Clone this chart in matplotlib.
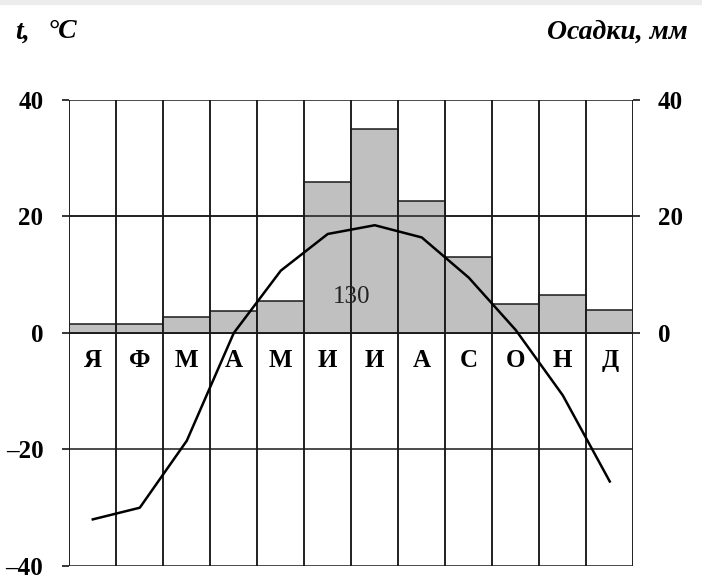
import matplotlib.pyplot as plt
from matplotlib.patches import Rectangle

# climate diagram data
months = ["Я", "Ф", "М", "А", "М", "И", "И", "А", "С", "О", "Н", "Д"]
temperature = [-32, -30, -18.5, 0, 10.7, 17, 18.5, 16.4, 9.5, 0.5, -10.7, -25.5]
precipitation = [1.6, 1.6, 2.7, 3.8, 5.5, 26, 35, 22.6, 13, 5, 6.6, 4]
total_precip = "130"
left_ticks = [-40, -20, 0, 20, 40]
left_ticklabels = ["\u201340", "\u201320", "0", "20", "40"]
right_ticks = [0, 20, 40]

plt.rcParams["font.family"] = ["Liberation Serif", "DejaVu Serif"]

fig = plt.figure(figsize=(7.02, 5.79), dpi=100)
fig.patches.append(Rectangle((0, 0.993), 1, 0.007, transform=fig.transFigure,
                             color="#ececec", zorder=0))

ax = fig.add_axes([0.0987, 0.0225, 0.8034, 0.8048])
ax2 = ax.twinx()

x = range(len(months))
ax.set_xlim(-0.5, len(months) - 0.5)
ax.set_ylim(-40, 40)
ax2.set_ylim(-40, 40)

# grid
for b in range(len(months) + 1):
    ax.axvline(b - 0.5, color="#1a1a1a", lw=1.1, zorder=1)
for t in left_ticks:
    ax.axhline(t, color="#1a1a1a", lw=1.1, zorder=1)

# precipitation bars
ax2.bar(x, precipitation, width=1.0, bottom=0, color="#c0c0c0",
        edgecolor="#1a1a1a", linewidth=1.1, zorder=2)
for b in range(len(months) + 1):
    ax2.axvline(b - 0.5, color="#1a1a1a", lw=1.1, zorder=3)
ax2.axhline(20, color="#1a1a1a", lw=1.1, zorder=3)
ax2.axhline(0, color="#1a1a1a", lw=1.1, zorder=3)

# temperature curve
ax2.plot(x, temperature, color="black", lw=1.8, zorder=5)

for i, m in enumerate(months):
    ax2.text(i, -4.7, m, ha="center", va="center", fontsize=18,
             fontweight="bold", zorder=6)

ax2.text(5.5, 6.1, total_precip, ha="center", va="center", fontsize=18,
         color="#222222", zorder=6)

ax.set_xticks([])
ax.set_yticks(left_ticks)
ax.set_yticklabels(left_ticklabels, fontsize=18, fontweight="bold")
ax.tick_params(axis="y", direction="out", length=4.7, width=1.1, pad=14)
ax2.set_yticks(right_ticks)
ax2.set_yticklabels([str(t) for t in right_ticks], fontsize=18, fontweight="bold")
ax2.tick_params(axis="y", direction="out", length=4.7, width=1.1, pad=13)

for a in (ax, ax2):
    for s in a.spines.values():
        s.set_visible(False)
ax.set_facecolor("white")
ax2.patch.set_visible(False)

fig.text(0.022, 0.945, "t,", fontsize=20, fontweight="bold", style="italic",
         ha="left", va="center")
fig.text(0.068, 0.945, "\u00b0C", fontsize=20, fontweight="bold",
         style="italic", ha="left", va="center")
fig.text(0.98, 0.945, "Осадки, мм", fontsize=20, fontweight="bold",
         style="italic", ha="right", va="center")

fig.savefig("out.png", dpi=100)
